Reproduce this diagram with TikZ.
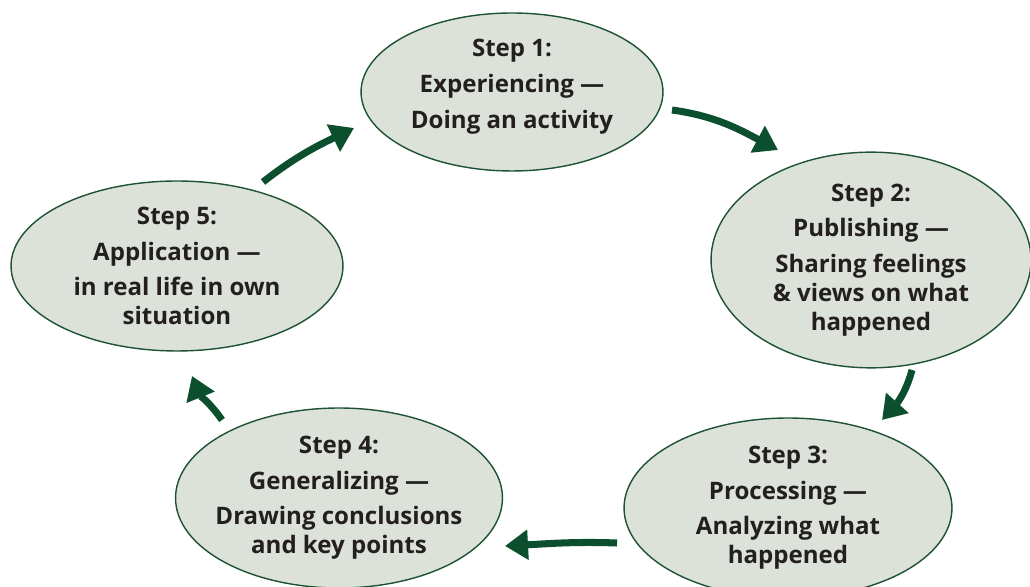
\documentclass[tikz,border=0pt]{standalone}
\usepackage{fontspec}
\setmainfont{Open Sans}
\usetikzlibrary{shapes.geometric,arrows.meta}
\definecolor{stagefill}{HTML}{DCE1DA}
\definecolor{stageline}{HTML}{1D5233}
\definecolor{arrowgreen}{HTML}{0B4F2E}
\definecolor{inktext}{HTML}{231F20}
\tikzset{
  stagenode/.style = {ellipse, draw=stageline, line width=0.8pt, fill=stagefill, align=center,
    inner sep=0pt, text=inktext, font=\fontsize{13.7}{16.5}\selectfont\bfseries},
  cyc_arr/.style = {draw=arrowgreen, line width=4pt,
    -{Triangle[length=0.46cm, width=0.58cm, fill=arrowgreen]}}
}

\begin{document}
\begin{tikzpicture}[x=0.02cm, y=0.02cm]
	\useasboundingbox (0,0) rectangle (1030,587);
	\node [stagenode, minimum width=6.04cm, minimum height=3.16cm] (s1) at (512,495)
		{Step 1:\\[3.8pt] Experiencing ---\\[3.8pt] Doing an activity\\[-7pt]\mbox{}};
	\node [stagenode, minimum width=6.4cm, minimum height=3.88cm] (s2) at (871,327)
		{Step 2:\\[3.8pt] Publishing ---\\[3.8pt] Sharing feelings\\ \& views on what\\ happened};
	\node [stagenode, minimum width=6.56cm, minimum height=3.6cm] (s3) at (788,79)
		{Step 3:\\[3.8pt] Processing ---\\[3.8pt] Analyzing what\\ happened};
	\node [stagenode, inner xsep=-6pt, minimum width=6.54cm, minimum height=3.6cm] (s4) at (339,89)
		{Step 4:\\[3.8pt] Generalizing ---\\[3.8pt] Drawing conclusions\\ and key points};
	\node [stagenode, minimum width=6.64cm, minimum height=3.4cm] (s5) at (177,321)
		{Step 5:\\[3.8pt] Application ---\\[3.8pt] in real life in own\\ situation};
	\coordinate (a1) at (672,477);  \coordinate (b1) at (778,437);
	\coordinate (a2) at (912,217);  \coordinate (b2) at (882,167);
	\coordinate (a3) at (617,44);   \coordinate (b3) at (505,41);
	\coordinate (a4) at (222,167);  \coordinate (b4) at (192,211);
	\coordinate (a5) at (263,405);  \coordinate (b5) at (354,459);
	\draw [cyc_arr] (a1) to[out=-8, in=152] (b1);
	\draw [cyc_arr] (a2) to[out=-105, in=48] (b2);
	\draw [cyc_arr] (a3) to[out=178, in=3] (b3);
	\draw [cyc_arr] (a4) to[out=125, in=-68] (b4);
	\draw [cyc_arr] (a5) to[out=38, in=206] (b5);
\end{tikzpicture}
\end{document}
